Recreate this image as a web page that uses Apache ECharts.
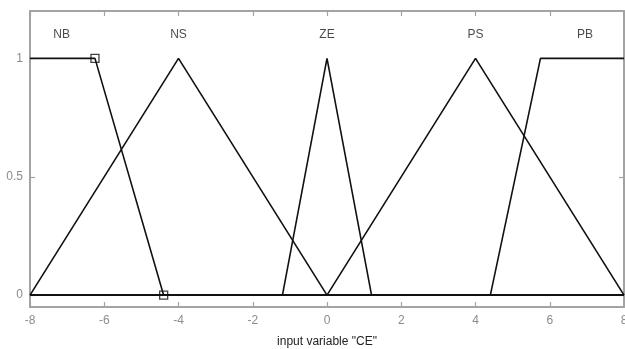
<!DOCTYPE html>
<html>
<head>
<meta charset="utf-8">
<script src="https://cdn.jsdelivr.net/npm/echarts@6/dist/echarts.min.js"></script>
<style>
  html, body { margin: 0; padding: 0; background: #fff; }
  #chart { width: 625px; height: 349px; }
</style>
</head>
<body>
<div id="chart"></div>
<script>
// Membership functions of input variable "CE" (breakpoints: [x, degree])
const nbPoints = [[-8, 1], [-6.25, 1], [-4.4, 0], [8, 0]];
const nsPoints = [[-8, 0], [-4, 1], [0, 0], [8, 0]];
const zePoints = [[-8, 0], [-1.2, 0], [0, 1], [1.2, 0], [8, 0]];
const psPoints = [[-8, 0], [0, 0], [4, 1], [8, 0]];
const pbPoints = [[-8, 0], [4.4, 0], [5.75, 1], [8, 1]];

// Vertices highlighted with square markers on the selected function (NB)
const nbMarkers = [[-6.25, 1], [-4.4, 0]];

// Function names and where they are written
const mfNames = ['NB', 'NS', 'ZE', 'PS', 'PB'];
const mfLabelX = [-7.15, -4, 0, 4, 6.95];
const mfLabelY = 1.1;

// Axis ticks
const xTicks = [-8, -6, -4, -2, 0, 2, 4, 6, 8];
const yTicks = [0, 0.5, 1];

const frameColor = '#a3a3a3';
const tickTextColor = '#8c8c8c';
const lineColor = '#111';
const fontFamily = 'Liberation Sans, Arial, sans-serif';

const chart = echarts.init(document.getElementById('chart'), null, { renderer: 'canvas' });

function lineSeries(name, pts) {
  return {
    name: name,
    type: 'line',
    data: pts,
    symbol: 'none',
    lineStyle: { color: lineColor, width: 1.6 },
    silent: true,
    animation: false,
    z: 3
  };
}

const xAxisBase = {
  type: 'value',
  min: -8,
  max: 8,
  interval: 2,
  splitLine: { show: false },
  axisLine: { show: true, onZero: false, lineStyle: { color: frameColor, width: 2 } },
  axisTick: { show: true, inside: true, length: 5, lineStyle: { color: frameColor, width: 1.2 } }
};

const yAxisBase = {
  type: 'value',
  min: -0.05,
  max: 1.2,
  splitLine: { show: false },
  axisLine: { show: true, onZero: false, lineStyle: { color: frameColor, width: 2 } },
  axisTick: { show: true, inside: true, length: 5, customValues: yTicks, lineStyle: { color: frameColor, width: 1.2 } }
};

chart.setOption({
  animation: false,
  backgroundColor: '#fff',
  grid: { left: 30, right: 1, top: 11, bottom: 42, containLabel: false, outerBoundsMode: 'none' },
  xAxis: [
    Object.assign({}, xAxisBase, {
      position: 'bottom',
      name: 'input variable "CE"',
      nameLocation: 'middle',
      nameGap: 29,
      nameTextStyle: { color: '#222', fontSize: 12, fontFamily: fontFamily },
      axisLabel: {
        show: true, color: tickTextColor, fontSize: 12, margin: 8,
        fontFamily: fontFamily,
        customValues: xTicks,
        showMaxLabel: true, showMinLabel: true, hideOverlap: false
      }
    }),
    Object.assign({}, xAxisBase, {
      position: 'top',
      axisLabel: { show: false }
    })
  ],
  yAxis: [
    Object.assign({}, yAxisBase, {
      position: 'left',
      axisLabel: {
        show: true, color: tickTextColor, fontSize: 12, margin: 7,
        fontFamily: fontFamily,
        customValues: yTicks,
        formatter: v => String(v)
      }
    }),
    Object.assign({}, yAxisBase, {
      position: 'right',
      axisLabel: { show: false }
    })
  ],
  series: [
    lineSeries('NS', nsPoints),
    lineSeries('ZE', zePoints),
    lineSeries('PS', psPoints),
    lineSeries('PB', pbPoints),
    lineSeries('NB', nbPoints),
    {
      name: 'NB vertices',
      type: 'scatter',
      data: nbMarkers,
      symbol: 'rect',
      symbolSize: 8,
      itemStyle: { color: 'rgba(255,255,255,0)', borderColor: lineColor, borderWidth: 1.3 },
      silent: true,
      z: 4
    },
    {
      name: 'names',
      type: 'scatter',
      data: mfNames.map((n, i) => ({ value: [mfLabelX[i], mfLabelY], name: n })),
      symbolSize: 0,
      label: {
        show: true,
        position: 'inside',
        formatter: p => p.name,
        color: '#1a1a1a',
        fontSize: 12,
        fontFamily: fontFamily
      },
      silent: true,
      z: 5
    }
  ]
});
</script>
</body>
</html>
